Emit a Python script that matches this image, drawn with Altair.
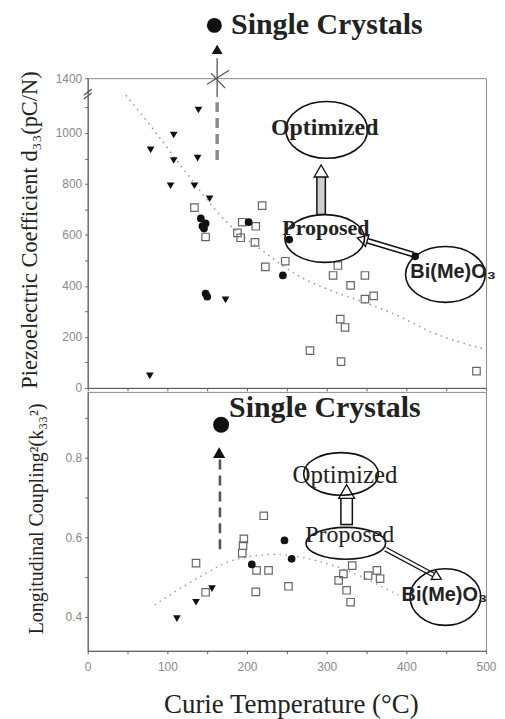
import altair as alt
import pandas as pd

# ---------------- data ----------------
# Top panel: Curie temperature (°C) vs piezoelectric coefficient d33 (pC/N)
top_tri_tc = [139, 108, 79, 108, 138, 104, 134, 153, 173, 78]
top_tri_d33 = [1090, 992, 934, 892, 901, 793, 793, 742, 345, 47]
top_circ_tc = [142, 144, 148, 146, 202, 253, 245, 148, 150, 411]
top_circ_d33 = [665, 635, 645, 625, 650, 582, 441, 370, 358, 516]
top_sq_tc = [134, 219, 148, 194, 211, 188, 192, 210, 223, 248, 314, 308, 330,
             348, 348, 359, 317, 323, 279, 318, 488]
top_sq_d33 = [707, 715, 592, 650, 634, 608, 589, 571, 475, 497, 480, 441, 402,
              441, 348, 361, 270, 237, 146, 103, 66]
top_fit_tc = [48, 80, 121, 173, 223, 265, 307, 348, 390, 432, 498]
top_fit_d33 = [1148, 1024, 855, 655, 530, 439, 380, 335, 282, 218, 152]

# Bottom panel: Curie temperature (°C) vs k33^2
bot_tri_tc = [112, 136, 156]
bot_tri_k = [0.396, 0.437, 0.471]
bot_circ_tc = [206, 247, 256]
bot_circ_k = [0.532, 0.592, 0.546]
bot_sq_tc = [136, 148, 196, 195, 194, 221, 212, 227, 211, 252, 332, 321, 315,
             325, 330, 352, 363, 367]
bot_sq_k = [0.535, 0.462, 0.596, 0.579, 0.560, 0.654, 0.517, 0.517, 0.463,
            0.477, 0.529, 0.508, 0.492, 0.467, 0.437, 0.504, 0.517, 0.496]
bot_fit_tc = [84, 140, 182, 235, 302, 390]
bot_fit_k = [0.430, 0.500, 0.542, 0.557, 0.533, 0.455]

x_tick_values = list(range(0, 501, 50))
top_y_tick_values = [0, 100, 200, 300, 400, 500, 600, 700, 800, 900, 1000, 1100, 1215]
bot_y_tick_values = [0.4, 0.5, 0.6, 0.7, 0.8, 0.9]

SERIF = "Liberation Serif"
SANS = "Liberation Sans"


def ellipse_path(k):
    c = 0.5523
    return (f"M -1 0 C -1 {-c*k:.3f} {-c:.3f} {-k:.3f} 0 {-k:.3f} "
            f"C {c:.3f} {-k:.3f} 1 {-c*k:.3f} 1 0 "
            f"C 1 {c*k:.3f} {c:.3f} {k:.3f} 0 {k:.3f} "
            f"C {-c:.3f} {k:.3f} -1 {c*k:.3f} -1 0 Z")


W = 400
H1 = 311
H2 = 260
xs = alt.Scale(domain=[0, 500], nice=False, zero=False)
ys1 = alt.Scale(domain=[0, 1215], nice=False, zero=False)
ys2 = alt.Scale(domain=[0.315, 0.965], nice=False, zero=False)

x_axis_top = alt.Axis(values=x_tick_values, labels=False, title=None, tickSize=3,
                      grid=False)
x_axis_bot = alt.Axis(values=x_tick_values, title="Curie Temperature (°C)",
                      labelExpr="datum.value % 100 == 0 ? datum.label : ''",
                      labelFlush=False, labelOverlap=False, tickSize=3, labelPadding=8,
                      titleFont=SERIF, titleFontSize=27, titleFontWeight="normal",
                      titleColor="#222", titleX=204, titleY=54, titleBaseline="middle",
                      titleAlign="center", grid=False)
y_axis_top = alt.Axis(values=top_y_tick_values,
                      labelExpr="datum.value == 1215 ? '1400' : (datum.value % 200 == 0 ? datum.label : '')",
                      format="d", labelOverlap=False, labelFlush=False, tickSize=3, labelPadding=3,
                      title="Piezoelectric Coefficient d₃₃(pC/N)",
                      titleFont=SERIF, titleFontSize=22.5, titleFontWeight="normal",
                      titleColor="#222", titleAngle=270, titleX=-58, titleY=152,
                      titleBaseline="middle", titleAlign="center", grid=False)
y_axis_bot = alt.Axis(values=bot_y_tick_values,
                      labelExpr="(datum.value == 0.4 || datum.value == 0.6 || datum.value == 0.8) ? format(datum.value, '.1f') : ''",
                      labelOverlap=False, labelFlush=False, tickSize=3, labelPadding=3,
                      title="Longitudinal Coupling²(k₃₃²)",
                      titleFont=SERIF, titleFontSize=20, titleFontWeight="normal",
                      titleColor="#222", titleAngle=270, titleX=-51, titleY=127,
                      titleBaseline="middle", titleAlign="center", grid=False)


def panel(xaxis, yaxis, yscale, h, layers_spec):
    X = alt.X("tc:Q", scale=xs, axis=xaxis)
    Y = alt.Y("v:Q", scale=yscale, axis=yaxis)
    layers = []
    for df, mark, extra in layers_spec:
        enc = dict(x=X, y=Y)
        enc.update(extra)
        layers.append(mark(alt.Chart(df)).encode(**enc))
    return alt.layer(*layers).properties(width=W, height=h)


def pts(tc, v):
    return pd.DataFrame({"tc": tc, "v": v})


def segs(rows):
    return pd.DataFrame(rows, columns=["tc", "v", "tc2", "v2"])


# ---------------- top panel ----------------
top_ellipses = pd.DataFrame({
    "tc": [300, 297.5, 449], "v": [1012, 586, 445],
    "shape": [ellipse_path(0.695), ellipse_path(0.6), ellipse_path(0.7)],
    "size": [82 ** 2, 80 ** 2, 80 ** 2]})
top_heads = pd.DataFrame({"tc": [293, 344.6], "v": [851, 583], "ang": [0, 286.6],
                          "size": [196, 144]})

top_spec = [
    (pts(top_fit_tc, top_fit_d33),
     lambda c: c.mark_line(color="#9a9a9a", strokeWidth=1.6, strokeDash=[1.5, 4.5],
                           interpolate="monotone"), {}),
    (pts(top_sq_tc, top_sq_d33),
     lambda c: c.mark_point(shape="square", filled=False, size=56, color="#666",
                            strokeWidth=1.2, opacity=1), {}),
    (pts(top_tri_tc, top_tri_d33),
     lambda c: c.mark_point(shape="triangle-down", filled=True, size=60, color="#111",
                            opacity=1), {}),
    (pts(top_circ_tc, top_circ_d33),
     lambda c: c.mark_point(shape="circle", filled=True, size=60, color="#111",
                            opacity=1), {}),
    # dashed and solid pointer lines to the single-crystal marker
    (segs([[162.5, 1121, 162.5, 875]]),
     lambda c: c.mark_rule(color="#8a8a8a", strokeWidth=3.5, strokeDash=[10, 6]),
     dict(x2="tc2:Q", y2="v2:Q")),
    (segs([[162.5, 1293, 162.5, 1141], [150, 1191, 177.5, 1246], [155, 1234, 172.5, 1176],
           [-5, 1148, 5, 1172], [-5, 1133, 5, 1157]]),
     lambda c: c.mark_rule(color="#555", strokeWidth=1.3), dict(x2="tc2:Q", y2="v2:Q")),
    (pts([162.5], [1328]),
     lambda c: c.mark_point(shape="triangle-up", filled=True, size=120, color="#111",
                            opacity=1), {}),
    (pts([159], [1422]),
     lambda c: c.mark_point(shape="circle", filled=True, size=225, color="#111",
                            opacity=1), {}),
    # hollow arrows
    (segs([[293, 832, 293, 680]]),
     lambda c: c.mark_rule(color="#111", strokeWidth=10), dict(x2="tc2:Q", y2="v2:Q")),
    (segs([[293, 828, 293, 683]]),
     lambda c: c.mark_rule(color="#cfcfcf", strokeWidth=7), dict(x2="tc2:Q", y2="v2:Q")),
    (segs([[409, 523, 350.6, 577.7]]),
     lambda c: c.mark_rule(color="#111", strokeWidth=6), dict(x2="tc2:Q", y2="v2:Q")),
    (segs([[407, 525, 350.6, 577.7]]),
     lambda c: c.mark_rule(color="#fff", strokeWidth=3), dict(x2="tc2:Q", y2="v2:Q")),
    (top_heads,
     lambda c: c.mark_point(shape="triangle-up", filled=True, fill="#fff", stroke="#111",
                            strokeWidth=1.3, opacity=1),
     dict(angle=alt.Angle("ang:Q", scale=None), size=alt.Size("size:Q", scale=None))),
    (top_ellipses,
     lambda c: c.mark_point(filled=False, stroke="#111", strokeWidth=1.6, opacity=1),
     dict(shape=alt.Shape("shape:N", scale=None), size=alt.Size("size:Q", scale=None))),
    # texts
    (pd.DataFrame({"tc": [297.5], "v": [1020], "t": ["Optimized"]}),
     lambda c: c.mark_text(font=SERIF, fontWeight="bold", fontSize=24, color="#222",
                           align="center", baseline="middle"), dict(text="t:N")),
    (pd.DataFrame({"tc": [299], "v": [629], "t": ["Proposed"]}),
     lambda c: c.mark_text(font=SERIF, fontWeight="bold", fontSize=22, color="#222",
                           align="center", baseline="middle"), dict(text="t:N")),
    (pd.DataFrame({"tc": [405], "v": [453], "t": ["Bi(Me)O₃"]}),
     lambda c: c.mark_text(font=SANS, fontWeight="bold", fontSize=20, color="#222",
                           align="left", baseline="middle"), dict(text="t:N")),
    (pd.DataFrame({"tc": [180], "v": [1422], "t": ["Single Crystals"]}),
     lambda c: c.mark_text(font=SERIF, fontWeight="bold", fontSize=30, color="#222",
                           align="left", baseline="middle"), dict(text="t:N")),
]

# ---------------- bottom panel ----------------
bot_ellipses = pd.DataFrame({
    "tc": [318, 324, 449], "v": [0.759, 0.585, 0.45],
    "shape": [ellipse_path(0.57), ellipse_path(0.4), ellipse_path(0.8)],
    "size": [75 ** 2, 80 ** 2, 71 ** 2]})
bot_heads = pd.DataFrame({"tc": [325, 439], "v": [0.715, 0.5], "ang": [0, 118],
                          "size": [256, 100]})

bot_spec = [
    (pts(bot_fit_tc, bot_fit_k),
     lambda c: c.mark_line(color="#9a9a9a", strokeWidth=1.4, strokeDash=[1.5, 4.5],
                           interpolate="monotone"), {}),
    (pts(bot_sq_tc, bot_sq_k),
     lambda c: c.mark_point(shape="square", filled=False, size=56, color="#666",
                            strokeWidth=1.2, opacity=1), {}),
    (pts(bot_tri_tc, bot_tri_k),
     lambda c: c.mark_point(shape="triangle-down", filled=True, size=60, color="#111",
                            opacity=1), {}),
    (pts(bot_circ_tc, bot_circ_k),
     lambda c: c.mark_point(shape="circle", filled=True, size=60, color="#111",
                            opacity=1), {}),
    (segs([[166, 0.795, 166, 0.5575]]),
     lambda c: c.mark_rule(color="#555", strokeWidth=2.6, strokeDash=[10, 6]),
     dict(x2="tc2:Q", y2="v2:Q")),
    (pts([165], [0.8125]),
     lambda c: c.mark_point(shape="triangle-up", filled=True, size=150, color="#111",
                            opacity=1), {}),
    (pts([167.5], [0.8825]),
     lambda c: c.mark_point(shape="circle", filled=True, size=256, color="#111",
                            opacity=1), {}),
    (segs([[325, 0.700, 325, 0.630]]),
     lambda c: c.mark_rule(color="#111", strokeWidth=13), dict(x2="tc2:Q", y2="v2:Q")),
    (segs([[325, 0.703, 325, 0.634]]),
     lambda c: c.mark_rule(color="#fff", strokeWidth=10), dict(x2="tc2:Q", y2="v2:Q")),
    (segs([[373.75, 0.57, 435, 0.5045]]),
     lambda c: c.mark_rule(color="#111", strokeWidth=5), dict(x2="tc2:Q", y2="v2:Q")),
    (segs([[372, 0.572, 435, 0.5045]]),
     lambda c: c.mark_rule(color="#fff", strokeWidth=2.5), dict(x2="tc2:Q", y2="v2:Q")),
    (bot_heads,
     lambda c: c.mark_point(shape="triangle-up", filled=True, fill="#fff", stroke="#111",
                            strokeWidth=1.3, opacity=1),
     dict(angle=alt.Angle("ang:Q", scale=None), size=alt.Size("size:Q", scale=None))),
    (bot_ellipses,
     lambda c: c.mark_point(filled=False, stroke="#111", strokeWidth=1.6, opacity=1),
     dict(shape=alt.Shape("shape:N", scale=None), size=alt.Size("size:Q", scale=None))),
    (pd.DataFrame({"tc": [323], "v": [0.7575], "t": ["Optimized"]}),
     lambda c: c.mark_text(font=SERIF, fontWeight="normal", fontSize=25, color="#222",
                           align="center", baseline="middle"), dict(text="t:N")),
    (pd.DataFrame({"tc": [329], "v": [0.605], "t": ["Proposed"]}),
     lambda c: c.mark_text(font=SERIF, fontWeight="normal", fontSize=24, color="#222",
                           align="center", baseline="middle"), dict(text="t:N")),
    (pd.DataFrame({"tc": [394], "v": [0.455], "t": ["Bi(Me)O₃"]}),
     lambda c: c.mark_text(font=SANS, fontWeight="bold", fontSize=20, color="#222",
                           align="left", baseline="middle"), dict(text="t:N")),
    (pd.DataFrame({"tc": [177.5], "v": [0.925], "t": ["Single Crystals"]}),
     lambda c: c.mark_text(font=SERIF, fontWeight="bold", fontSize=30, color="#222",
                           align="left", baseline="middle"), dict(text="t:N")),
]

top = panel(x_axis_top, y_axis_top, ys1, H1, top_spec)
bottom = panel(x_axis_bot, y_axis_bot, ys2, H2, bot_spec)

chart = alt.vconcat(top, bottom, spacing=4, bounds="flush",
                    padding={"left": 10, "top": 0, "right": 0, "bottom": 0}
                    ).configure_view(stroke="#8a8a8a", strokeWidth=1
                    ).configure_axis(domainColor="#555", tickColor="#666",
                                     labelColor="#8a8a8a", labelFont=SANS,
                                     labelFontSize=12)

chart.save("out.html", embed_options={"renderer": "svg", "actions": False})
